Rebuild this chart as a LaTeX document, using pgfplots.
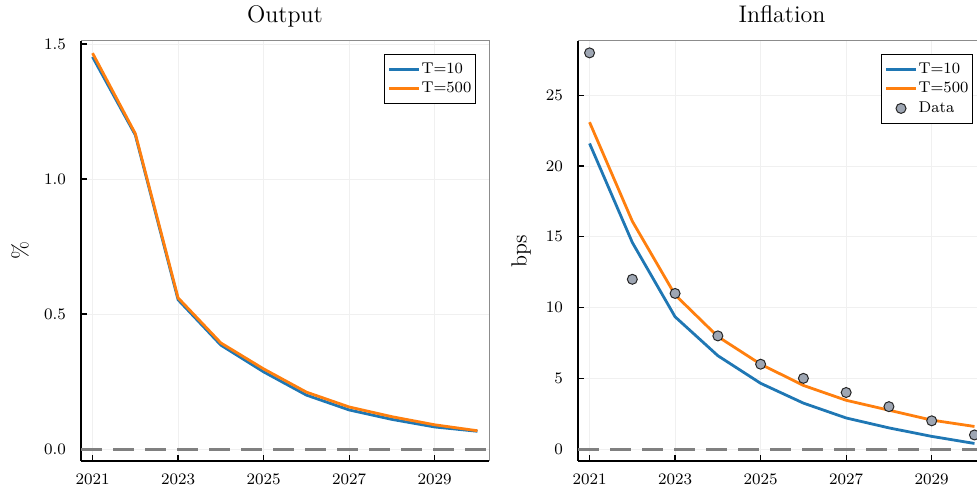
\documentclass[border=0pt]{standalone}
\usepackage{pgfplots}
\pgfplotsset{compat=1.18}
\definecolor{pblue}{RGB}{31,119,180}
\definecolor{porange}{RGB}{255,127,14}
\definecolor{pgray}{RGB}{158,166,179}
\definecolor{zgray}{RGB}{128,128,128}
\pgfplotsset{
  common/.style={
    scale only axis, width=204pt, height=210pt,
    xmin=2020.73, xmax=2030.27,
    xtick={2021,2023,2025,2027,2029},
    xticklabel style={/pgf/number format/1000 sep={}, font=\fontsize{8}{9}\selectfont, yshift=-3pt},
    yticklabel style={font=\fontsize{8}{9}\selectfont, xshift=-4pt},
    axis x line*=bottom, axis y line*=left,
    axis line style={-, black, line width=0.7pt},
    tick align=inside, major tick length=3pt,
    tick style={black, line width=0.6pt},
    grid=major, major grid style={black!6, line width=0.4pt},
    clip=false,
    every axis title/.style={at={(rel axis cs:0.5,1)}, anchor=base, yshift=9pt, font=\fontsize{12}{14}\selectfont},
    legend style={at={(rel axis cs:1,1)}, anchor=north east, xshift=-6.5pt, yshift=-6.5pt,
      font=\fontsize{7.8}{8}\selectfont, draw=black, line width=0.5pt,
      inner xsep=1.5pt, inner ysep=2.5pt,
      nodes={inner xsep=0.6pt, inner ysep=1.5pt}},
    legend cell align=left,
    legend image code/.code={\draw[mark repeat=2,mark phase=2,##1] plot coordinates {(0pt,0pt) (7.5pt,0pt) (15pt,0pt)};},
  },
  line10/.style={pblue, line width=1.4pt},
  line500/.style={porange, line width=1.4pt},
  zeroline/.style={zgray, line width=1.4pt, dash pattern=on 10.5pt off 5.5pt, forget plot},
}
\begin{document}
\begin{tikzpicture}[x=1pt,y=1pt]
\path (0,0) rectangle (488.5,245.5);
\begin{scope}[overlay]
\begin{axis}[common, at={(40.5pt,15pt)}, anchor=south west,
  title={Output},
  ymin=-0.044, ymax=1.511,
  ytick={0,0.5,1,1.5},
  yticklabel style={/pgf/number format/fixed, /pgf/number format/fixed zerofill, /pgf/number format/precision=1},
  ylabel={\%},
  every axis y label/.style={at={(rel axis cs:-0.1495,0.5)}, rotate=90, anchor=center, font=\fontsize{11}{13}\selectfont},
]
\addplot[zeroline] coordinates {(2020.73,0) (2030.27,0)};
\addplot[line10] coordinates {(2021,1.452) (2022,1.163) (2023,0.553) (2024,0.385) (2025,0.286) (2026,0.200) (2027,0.145) (2028,0.110) (2029,0.082) (2030,0.066)};
\addlegendentry{T=10}
\addplot[line500] coordinates {(2021,1.466) (2022,1.168) (2023,0.560) (2024,0.393) (2025,0.297) (2026,0.211) (2027,0.156) (2028,0.120) (2029,0.090) (2030,0.068)};
\addlegendentry{T=500}
\draw[black!45, line width=0.5pt] (rel axis cs:0,1) -- (rel axis cs:1,1) -- (rel axis cs:1,0);
\end{axis}
\begin{axis}[common, at={(289pt,15pt)}, anchor=south west,
  title={Inflation},
  ymin=-0.84, ymax=28.84,
  ytick={0,5,10,15,20,25},
  ylabel={bps},
  every axis y label/.style={at={(rel axis cs:-0.1397,0.5)}, rotate=90, anchor=center, font=\fontsize{11}{13}\selectfont},
]
\addplot[zeroline] coordinates {(2020.73,0) (2030.27,0)};
\addplot[line10] coordinates {(2021,21.6) (2022,14.6) (2023,9.35) (2024,6.6) (2025,4.65) (2026,3.25) (2027,2.2) (2028,1.5) (2029,0.9) (2030,0.4)};
\addlegendentry{T=10}
\addplot[line500] coordinates {(2021,23.1) (2022,16.1) (2023,10.9) (2024,7.95) (2025,6.0) (2026,4.5) (2027,3.45) (2028,2.75) (2029,2.05) (2030,1.6)};
\addlegendentry{T=500}
\addplot[only marks, mark=*, mark size=2.5pt, mark options={fill=pgray, draw=black!85, line width=0.5pt}] coordinates {(2021,28) (2022,12) (2023,11) (2024,8) (2025,6) (2026,5) (2027,4) (2028,3) (2029,2) (2030,1)};
\addlegendentry{Data}
\draw[black!45, line width=0.5pt] (rel axis cs:0,1) -- (rel axis cs:1,1) -- (rel axis cs:1,0);
\end{axis}
\end{scope}
\end{tikzpicture}
\end{document}
